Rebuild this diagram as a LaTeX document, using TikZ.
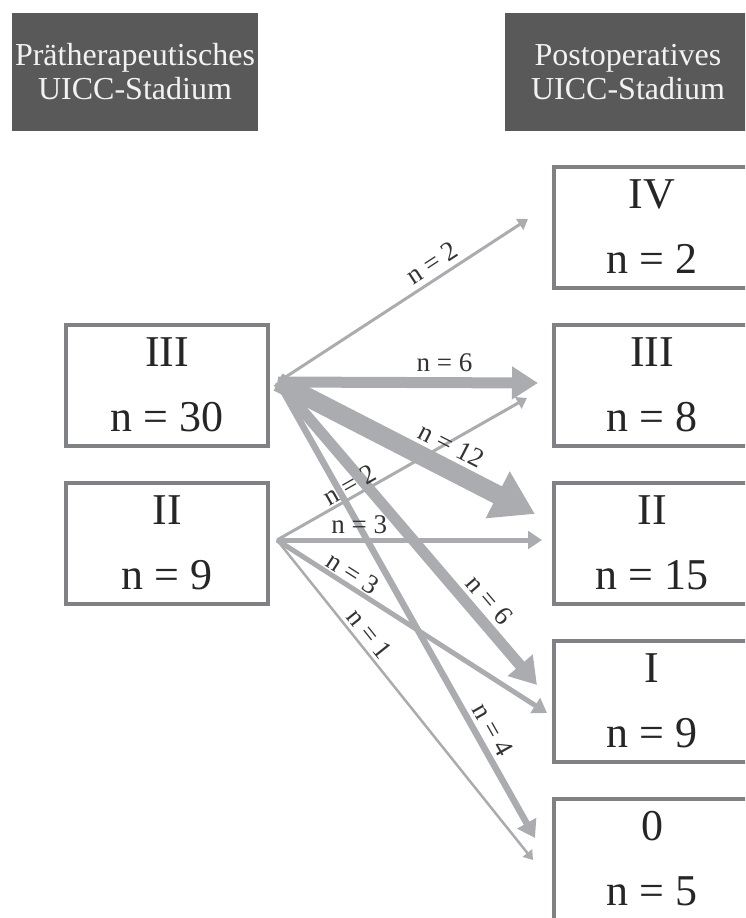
\documentclass[tikz,border=0pt]{standalone}
\usepackage{fontspec}
\setmainfont{Liberation Serif}
\usetikzlibrary{arrows.meta, positioning}

\definecolor{headgray}{RGB}{89,89,89}
\definecolor{framegray}{RGB}{127,129,132}
\definecolor{flowgray}{RGB}{170,172,176}

\begin{document}
\begin{tikzpicture}[x=1pt, y=-1pt,
	header/.style={fill=headgray, text=white!95!black, minimum width=246pt, minimum height=118pt,
		align=center, font=\fontsize{32}{34}\selectfont},
	stage/.style={draw=framegray, line width=4pt, fill=white, minimum height=121pt, inner sep=2pt,
		align=center, text=black!85, font=\fontsize{44}{65}\selectfont},
	flow/.style={draw=flowgray, line width=#1, -{Triangle[length=4pt 2, width=6pt 2.3]}},
	count/.style={font=\fontsize{27}{27}\selectfont, text=black!80, inner sep=0pt, sloped}
]

	% Page
	\useasboundingbox (0,0) rectangle (745,918);
	\clip (0,0) rectangle (745,918);

	% Headers
	\node[header] (headpre) at (135,72) {Prätherapeutisches\\UICC-Stadium};
	\node[header] (headpost) at (628,72) {Postoperatives\\UICC-Stadium};

	% Stages before therapy
	\node[stage, minimum width=202pt] (pre3) at (167,385) {III\\n = 30};
	\node[stage, minimum width=202pt, below=33pt of pre3] (pre2) {II\\n = 9};

	% Stages after surgery
	\node[stage, minimum width=196pt] (post3) at (652,385) {III\\n = 8};
	\node[stage, minimum width=196pt, above=33pt of post3] (post4) {IV\\n = 2};
	\node[stage, minimum width=196pt, below=33pt of post3] (post2) {II\\n = 15};
	\node[stage, minimum width=196pt, below=33pt of post2] (post1) {I\\n = 9};
	\node[stage, minimum width=196pt, below=33pt of post1] (post0) {0\\n = 5};

	% Start and end points of the flows
	\coordinate (from3) at ([xshift=8pt, yshift=3pt]pre3.east);
	\coordinate (from2) at ([xshift=7pt, yshift=3pt]pre2.east);
	\coordinate (to4a) at ([xshift=-24pt, yshift=8pt]post4.west);
	\coordinate (to3a) at ([xshift=-14pt, yshift=2pt]post3.west);
	\coordinate (to3b) at ([xshift=-25pt, yshift=-13pt]post3.west);
	\coordinate (to2a) at ([xshift=-17pt, yshift=29pt]post2.west);
	\coordinate (to2b) at ([xshift=-10pt, yshift=3pt]post2.west);
	\coordinate (to1a) at ([xshift=-15pt, yshift=16pt]post1.west);
	\coordinate (to1b) at ([xshift=-5pt, yshift=-12pt]post1.west);
	\coordinate (to0a) at ([xshift=-17pt, yshift=21pt]post0.west);
	\coordinate (to0b) at ([xshift=-19pt, yshift=-1pt]post0.west);

	% Flows from stage III
	\draw[flow=3pt] (from3) -- (to4a);
	\draw[flow=11pt] (from3) -- (to3a);
	\draw[flow=19pt] (from3) -- (to2a);
	\draw[flow=11pt] (from3) -- (to1a);
	\draw[flow=6.5pt] (from3) -- (to0a);

	% Flows from stage II
	\draw[flow=3pt] (from2) -- (to3b);
	\draw[flow=5pt] (from2) -- (to2b);
	\draw[flow=5pt] (from2) -- (to1b);
	\draw[flow=2.5pt] (from2) -- (to0b);

	% Counts
	\path (from3) -- (to4a) node[count, above=7pt, pos=.65] (c34) {n = 2};
	\path (from3) -- (to3a) node[count, above=11pt, pos=.64] (c33) {n = 6};
	\path (from3) -- (to2a) node[count, above=14pt, pos=.635] (c32) {n = 12};
	\path (from3) -- (to1a) node[count, above=10pt, pos=.76] (c31) {n = 6};
	\path (from3) -- (to0a) node[count, above=8pt, pos=.78] (c30) {n = 4};
	\path (from2) -- (to3b) node[count, above=3pt, pos=.315] (c23) {n = 2};
	\path (from2) -- (to2b) node[count, above=6pt, pos=.31] (c22) {n = 3};
	\path (from2) -- (to1b) node[count, above=4pt, pos=.255] (c21) {n = 3};
	\path (from2) -- (to0b) node[count, above=5pt, pos=.32] (c20) {n = 1};

\end{tikzpicture}
\end{document}
